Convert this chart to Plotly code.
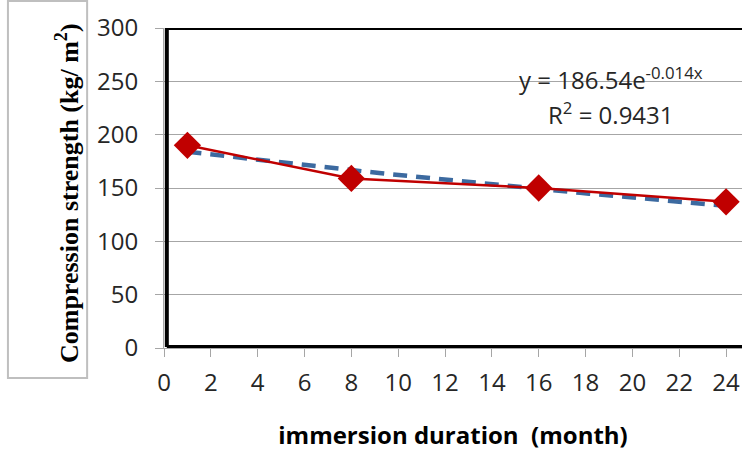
import numpy as np
import plotly.graph_objects as go

# Data
months = [1, 8, 16, 24]
strength = [190, 159, 150, 137]

# Exponential trendline shown on the chart: y = 186.54 e^(-0.014x)
fit_a = 186.54
fit_b = -0.014
fit_label = "y = 186.54e<sup>-0.014x</sup>"
r2_label = "R<sup>2</sup> = 0.9431"

x_ticks = list(range(0, 25, 2))
y_ticks = list(range(0, 301, 50))

xs = np.linspace(months[0], months[-1], 60)
trend = fit_a * np.exp(fit_b * xs)

fig = go.Figure()
fig.add_trace(go.Scatter(
    x=xs, y=trend, mode="lines",
    line=dict(color="#3C6AA0", width=4.5, dash="14px,9px"),
    showlegend=False, hoverinfo="skip"))
fig.add_trace(go.Scatter(
    x=months, y=strength, mode="lines+markers",
    line=dict(color="#C00000", width=2.5),
    marker=dict(symbol="diamond", size=21, color="#C00000"),
    showlegend=False, cliponaxis=False))

XMAX = 24.68
# Black frame (left, top, bottom)
frame = dict(type="line", line=dict(color="black", width=4), layer="above")
fig.add_shape(x0=0.12, x1=0.12, y0=1, y1=300, xref="x", yref="y", **frame)
fig.add_shape(x0=0.12, x1=XMAX, y0=300, y1=300, xref="x", yref="y", **frame)
fig.add_shape(x0=0.12, x1=XMAX, y0=1, y1=1, xref="x", yref="y", **frame)

# Box around the y title
fig.add_shape(type="rect", xref="paper", yref="paper",
              x0=-0.270, x1=-0.133, y0=-0.094, y1=1.084,
              line=dict(color="#BFBFBF", width=2), fillcolor="rgba(0,0,0,0)")

fig.add_annotation(xref="paper", yref="paper", x=-0.2, y=0.484,
                   text="Compression strength (kg/ m<sup>2</sup>)",
                   textangle=-90, showarrow=False,
                   font=dict(family="Liberation Serif", size=26, color="black", weight="bold"))

fig.add_annotation(x=19.09, y=253, xref="x", yref="y", text=fit_label,
                   showarrow=False, font=dict(family="Open Sans", size=24, color="#262626"))
fig.add_annotation(x=19.09, y=220, xref="x", yref="y", text=r2_label,
                   showarrow=False, font=dict(family="Open Sans", size=24, color="#262626"))

tickfont = dict(family="Open Sans", size=24, color="#262626")
fig.update_xaxes(range=[0, XMAX], tickvals=x_ticks, ticktext=[str(v) for v in x_ticks],
                 showgrid=False, zeroline=False, showline=True, linecolor="#A6A6A6",
                 linewidth=1, ticks="outside", ticklen=8, tickcolor="#A6A6A6",
                 tickfont=tickfont, ticklabelstandoff=5,
                 title=dict(text="<b>immersion duration  (month)</b>",
                            font=dict(family="Open Sans", size=24, color="black"),
                            standoff=30))
fig.update_yaxes(range=[0, 300], tickvals=y_ticks, showgrid=True, gridcolor="#A6A6A6",
                 gridwidth=1, zeroline=False, showline=True, linecolor="#A6A6A6",
                 linewidth=1, ticks="outside", ticklen=8, tickcolor="#A6A6A6",
                 tickfont=tickfont, ticklabelstandoff=12)

fig.update_layout(width=742, height=457,
                  margin=dict(l=164, r=0, t=28, b=109),
                  plot_bgcolor="white", paper_bgcolor="white")

fig.write_html("out.html", config={"displayModeBar": False},
               post_script="document.body.style.margin='0';document.body.style.overflow='hidden';")
